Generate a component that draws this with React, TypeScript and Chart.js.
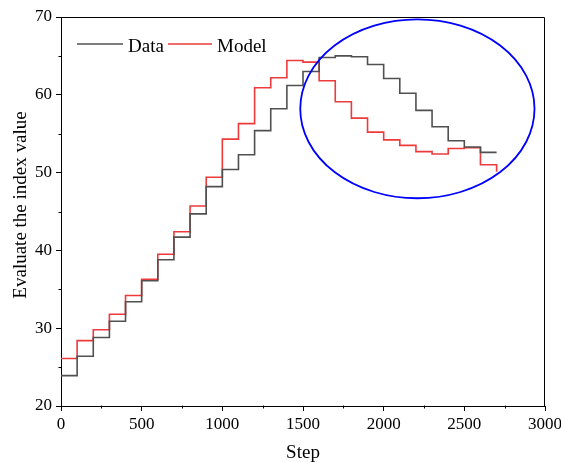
import React, { useEffect, useRef } from "react";
import { Chart, registerables } from "chart.js";

Chart.register(...registerables);

// ---- data ----
const steps = [
  0, 100, 200, 300, 400, 500, 600, 700, 800, 900, 1000, 1100, 1200, 1300,
  1400, 1500, 1600, 1700, 1800, 1900, 2000, 2100, 2200, 2300, 2400, 2500,
  2600, 2700,
];
const dataValues = [
  23.9, 26.4, 28.8, 30.9, 33.4, 36.1, 38.8, 41.7, 44.7, 48.2, 50.4, 52.3,
  55.4, 58.2, 61.2, 63.0, 64.8, 65.0, 64.9, 63.9, 62.1, 60.2, 58.0, 55.9,
  54.1, 53.3, 52.6, 52.6,
];
const modelValues = [
  26.1, 28.4, 29.8, 31.8, 34.2, 36.3, 39.5, 42.4, 45.7, 49.4, 54.3, 56.3,
  60.9, 62.2, 64.4, 64.2, 61.8, 59.1, 57.0, 55.2, 54.2, 53.5, 52.7, 52.4,
  53.1, 53.2, 51.0, 50.1,
];
const seriesNames = ["Data", "Model"];
const xTickValues = [0, 500, 1000, 1500, 2000, 2500, 3000];
const yTickValues = [20, 30, 40, 50, 60, 70];
const xMinorTicks = [250, 750, 1250, 1750, 2250, 2750];
const yMinorTicks = [25, 35, 45, 55, 65];
const xTitle = "Step";
const yTitle = "Evaluate the index value";
// highlighted region (data coordinates): center and radii
const ellipseCenter = [2209, 58.2];
const ellipseRadii = [726, 11.5];

const FONT = '"Liberation Serif", "Times New Roman", serif';
const GRAY = "#505050";
const RED = "#ee3a3a";

const decorPlugin = {
  id: "decor",
  afterDraw(chart: any) {
    const { ctx, chartArea, scales } = chart;
    const xs = scales.x;
    const ys = scales.y;
    ctx.save();
    // frame top & right
    ctx.strokeStyle = "#000";
    ctx.lineWidth = 1;
    ctx.beginPath();
    const top = Math.round(chartArea.top) + 0.5;
    const right = Math.round(chartArea.right) - 0.5;
    ctx.moveTo(Math.round(chartArea.left), top);
    ctx.lineTo(right, top);
    ctx.lineTo(right, Math.round(chartArea.bottom));
    ctx.stroke();
    // minor ticks
    ctx.beginPath();
    const bottom = Math.round(chartArea.bottom) - 0.5;
    xMinorTicks.forEach((v) => {
      const px = Math.round(xs.getPixelForValue(v)) + 0.5;
      ctx.moveTo(px, bottom);
      ctx.lineTo(px, bottom + 3);
    });
    const left = Math.round(chartArea.left) + 0.5;
    yMinorTicks.forEach((v) => {
      const py = Math.round(ys.getPixelForValue(v)) + 0.5;
      ctx.moveTo(left, py);
      ctx.lineTo(left - 3, py);
    });
    ctx.stroke();

    // ellipse
    const cx = xs.getPixelForValue(ellipseCenter[0]);
    const cy = ys.getPixelForValue(ellipseCenter[1]);
    const rx = Math.abs(xs.getPixelForValue(ellipseCenter[0] + ellipseRadii[0]) - cx);
    const ry = Math.abs(ys.getPixelForValue(ellipseCenter[1] + ellipseRadii[1]) - cy);
    ctx.beginPath();
    ctx.strokeStyle = "#0000ff";
    ctx.lineWidth = 1.8;
    ctx.ellipse(cx, cy, rx, ry, 0, 0, Math.PI * 2);
    ctx.stroke();

    // legend
    const ly = 44;
    ctx.lineWidth = 1.6;
    ctx.strokeStyle = GRAY;
    ctx.beginPath();
    ctx.moveTo(77, ly);
    ctx.lineTo(123, ly);
    ctx.stroke();
    ctx.strokeStyle = RED;
    ctx.beginPath();
    ctx.moveTo(168, ly);
    ctx.lineTo(212, ly);
    ctx.stroke();
    ctx.fillStyle = "#000";
    ctx.font = `19px ${FONT}`;
    ctx.textAlign = "left";
    ctx.textBaseline = "alphabetic";
    ctx.fillText(seriesNames[0], 128, 51.5);
    ctx.fillText(seriesNames[1], 217, 51.5);

    // y title
    ctx.save();
    ctx.translate(26, 205);
    ctx.rotate(-Math.PI / 2);
    ctx.textAlign = "center";
    ctx.textBaseline = "alphabetic";
    ctx.fillText(yTitle, 0, 0);
    ctx.restore();

    ctx.restore();
  },
};

export default function App() {
  const canvasRef = useRef<HTMLCanvasElement | null>(null);

  useEffect(() => {
    if (!canvasRef.current) return;
    const tickFont = { family: FONT, size: 17 };
    const chart = new Chart(canvasRef.current, {
      type: "line",
      data: {
        datasets: [
          {
            label: seriesNames[0],
            data: steps.map((x, i) => ({ x, y: dataValues[i] })),
            borderColor: GRAY,
            borderWidth: 1.6,
            pointRadius: 0,
            stepped: true,
            fill: false,
          },
          {
            label: seriesNames[1],
            data: steps.map((x, i) => ({ x, y: modelValues[i] })),
            borderColor: RED,
            borderWidth: 1.6,
            pointRadius: 0,
            stepped: true,
            fill: false,
          },
        ],
      },
      options: {
        responsive: false,
        animation: false,
        layout: { padding: { top: 17, right: 16, left: 0, bottom: 0 } },
        plugins: {
          legend: { display: false },
          tooltip: { enabled: false },
        },
        scales: {
          x: {
            type: "linear",
            min: 0,
            max: 3000,
            afterBuildTicks: (s: any) => {
              s.ticks = xTickValues.map((v) => ({ value: v }));
            },
            afterFit: (s: any) => {
              s.height = 56;
              s.paddingRight = 0;
              s.paddingLeft = 0;
            },
            ticks: {
              font: tickFont,
              color: "#000",
              padding: 3,
              maxRotation: 0,
              autoSkip: false,
              callback: (v: any) => String(v),
            },
            grid: {
              drawOnChartArea: false,
              tickLength: 5,
              color: "#000",
              tickWidth: 1,
            },
            border: { color: "#000", width: 1 },
            title: {
              display: true,
              text: xTitle,
              color: "#000",
              font: { family: FONT, size: 19, lineHeight: 0.9 },
              padding: 0,
            },
          },
          y: {
            type: "linear",
            min: 20,
            max: 70,
            afterBuildTicks: (s: any) => {
              s.ticks = yTickValues.map((v) => ({ value: v }));
            },
            afterFit: (s: any) => {
              s.width = 61;
            },
            ticks: {
              font: tickFont,
              color: "#000",
              padding: 4,
              autoSkip: false,
              callback: (v: any) => String(v),
            },
            grid: {
              drawOnChartArea: false,
              tickLength: 5,
              color: "#000",
              tickWidth: 1,
            },
            border: { color: "#000", width: 1 },
          },
        },
      },
      plugins: [decorPlugin],
    } as any);
    return () => chart.destroy();
  }, []);

  return (
    <div style={{ position: "absolute", left: 0, top: 0, width: 561, height: 462, background: "#fff" }}>
      <canvas ref={canvasRef} width={561} height={462} style={{ display: "block" }} />
    </div>
  );
}
